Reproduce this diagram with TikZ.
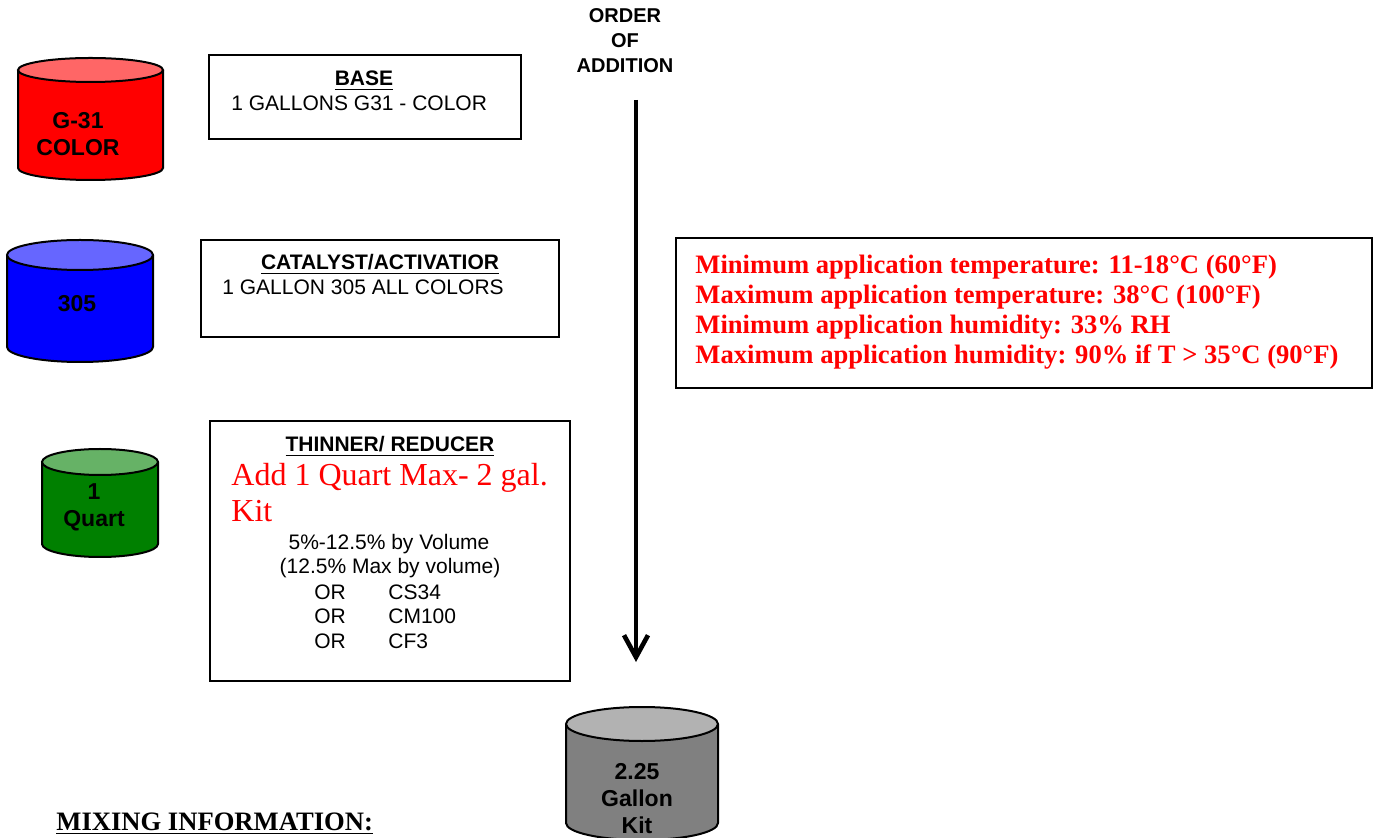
\documentclass[tikz,border=0pt]{standalone}
\usepackage{fontspec}
\setmainfont{Liberation Sans}
\newfontfamily\timesface{Liberation Serif}
\usetikzlibrary{arrows.meta,fit}
\newcommand{\drawcan}[7]{
    \fill[#7] (#2-#5,#3) rectangle (#2+#5,#4);
    \fill[#7] (#2,#4) ellipse [x radius=#5, y radius=#6];
    \draw[line width=1pt] (#2-#5,#3) -- (#2-#5,#4) arc [start angle=180, end angle=0, x radius=#5, y radius=#6] -- (#2+#5,#3);
    \draw[line width=1pt, fill=#7!60!white] (#2,#3) ellipse [x radius=#5, y radius=#6];
    \coordinate (#1) at (#2,{(#3+#4)/2});
}
\tikzset{
    panel/.style={draw, line width=1pt, inner sep=0pt},
    canlabel/.style={font=\fontsize{11.5}{13.5}\selectfont\bfseries, align=center, inner sep=0pt},
    boxhead/.style={font=\fontsize{10.5}{12}\selectfont\bfseries, anchor=base, inner sep=0pt},
    boxtext/.style={font=\fontsize{10.5}{12}\selectfont, anchor=base west, inner sep=0pt},
    redrule/.style={font=\timesface\fontsize{13.3}{15}\selectfont\bfseries, text=red, anchor=base west, inner sep=0pt},
}
\begin{document}
\begin{tikzpicture}[x=0.5pt,y=-0.5pt]
\useasboundingbox (0,0) rectangle (1374,838);
\clip (0,0) rectangle (1374,838);
\drawcan{g31can}{90.5}{70}{168}{72.5}{12}{red}
\drawcan{catcan}{80}{255}{347}{73}{15}{blue}
\drawcan{thincan}{100}{462}{544}{58}{13}{green!50!black}
\drawcan{kitcan}{642}{724}{823}{76}{17}{gray}
\node[canlabel] (g31label) at (78,134) {G-31\\COLOR};
\node[canlabel] (catlabel) at (77,304) {305};
\node[canlabel] (thinlabel) at (94,507) {1\\Quart};
\node[canlabel] (kitlabel) at (637,799) {2.25\\Gallon\\Kit};
\node[panel, fit={(209,55) (521,139)}] (basebox) {};
\node[panel, fit={(201,240) (559,337)}] (catbox) {};
\node[panel, fit={(210,421) (570,681)}] (thinbox) {};
\node[panel, fit={(676,238) (1372,388)}] (rulebox) {};
\node[boxhead] (basehead) at (364,86) {\underline{BASE}};
\node[boxtext] (basetext) at (231,111) {1 GALLONS G31 - COLOR};
\node[boxhead] (cathead) at (380,270) {\underline{CATALYST/ACTIVATIOR}};
\node[boxtext] (cattext) at (222,295) {1 GALLON 305 ALL COLORS};
\node[boxhead] (thinhead) at (390,452) {\underline{THINNER/ REDUCER}};
\node[boxtext, font=\timesface\fontsize{16}{18}\selectfont, text=red] (thinadd) at (231,486) {Add 1 Quart Max- 2 gal.};
\node[boxtext, font=\timesface\fontsize{16}{18}\selectfont, text=red] (thinkit) at (231,522) {Kit};
\node[boxhead, font=\fontsize{10.5}{12}\selectfont] (thinvol) at (389,550) {5\%-12.5\% by Volume};
\node[boxhead, font=\fontsize{10.5}{12}\selectfont] (thinmax) at (390,574) {(12.5\% Max by volume)};
\foreach \sub [count=\i] in {CS34,CM100,CF3}{
    \node[boxtext] (or\i) at (314,{574.5+24.5*\i}) {OR};
    \node[boxtext] (sub\i) at (388,{574.5+24.5*\i}) {\sub};
}
\foreach \word [count=\i] in {ORDER,OF,ADDITION}{
    \node[boxhead, font=\fontsize{10}{12}\selectfont\bfseries] (order\i) at (625,{-2+25*\i}) {\word};
}
\coordinate (ordertop) at (636,100);
\coordinate (orderend) at (636,662);
\draw[line width=2.3pt, -{Straight Barb[length=11pt,width=12pt]}] (ordertop) -- (orderend);
\node[redrule] (rule1) at (695,274) {Minimum application temperature: 11-18°C (60°F)};
\node[redrule] (rule2) at (695,304) {Maximum application temperature: 38°C (100°F)};
\node[redrule] (rule3) at (695,334) {Minimum application humidity: 33\% RH};
\node[redrule] (rule4) at (695,364) {Maximum application humidity: 90\% if T > 35°C (90°F)};
\node[boxtext, font=\timesface\fontsize{13.3}{15}\selectfont\bfseries] (mixinfo) at (56,830) {\underline{MIXING INFORMATION:}};
\end{tikzpicture}
\end{document}
